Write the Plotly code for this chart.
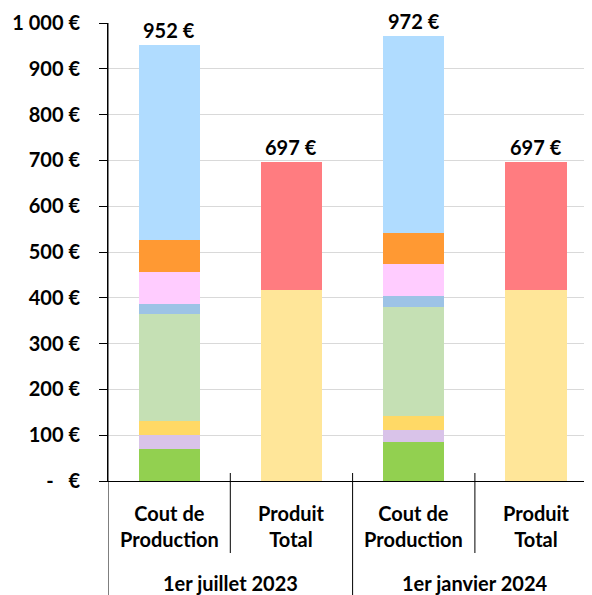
import plotly.graph_objects as go

periods = ["1er juillet 2023", "1er janvier 2024"]
bar_labels = ["Cout de<br>Production", "Produit<br>Total", "Cout de<br>Production", "Produit<br>Total"]
y_tickvals = [0, 100, 200, 300, 400, 500, 600, 700, 800, 900, 1000]
y_ticktext = ["-   €", "100 €", "200 €", "300 €", "400 €", "500 €", "600 €", "700 €", "800 €", "900 €", "1 000 €"]

# cost components (bottom to top) for the two "Cout de Production" bars
cost_names = ["Poste 1", "Poste 2", "Poste 3", "Poste 4", "Poste 5", "Poste 6", "Poste 7", "Poste 8"]
cost_2023 = [70, 30, 31, 234, 21, 71, 69, 426]
cost_2024 = [86, 25, 32, 238, 22, 71, 68, 430]
cost_colors = ["#92D050", "#D9C3E9", "#FFD966", "#C5E0B4", "#9DC3E6", "#FFCCFF", "#FF9933", "#B0DCFF"]

# product components for the two "Produit Total" bars
prod_names = ["Produit 1", "Produit 2"]
prod_2023 = [417, 280]
prod_2024 = [417, 280]
prod_colors = ["#FFE699", "#FF7C80"]

totals = [952, 697, 972, 697]
total_labels = ["952 €", "697 €", "972 €", "697 €"]

FONT = "Lato"
FS = 20
fig = go.Figure()
for name, a, b, c in zip(cost_names, cost_2023, cost_2024, cost_colors):
    fig.add_trace(go.Bar(x=[0, 2], y=[a, b], name=name, marker_color=c,
                         marker_line_width=0, width=0.5, showlegend=False))
for name, a, b, c in zip(prod_names, prod_2023, prod_2024, prod_colors):
    fig.add_trace(go.Bar(x=[1, 3], y=[a, b], name=name, marker_color=c,
                         marker_line_width=0, width=0.5, showlegend=False))

# page has an 8px body margin; compensate
W, H = 584, 587
ml, mr, mt, mb = 100, 0, 15, 114
plot_h = H - mt - mb
cat_px = 122.3
xr = [-0.5, -0.5 + (W - ml - mr) / cat_px]

def py(px_below):  # pixels below axis -> paper y
    return -px_below / plot_h

bold = dict(family=FONT, size=FS, color="black", weight="bold")
annotations = []
for i, (t, lab) in enumerate(zip(totals, total_labels)):
    annotations.append(dict(x=i, y=t, xref="x", yref="y", text=lab, showarrow=False,
                            yanchor="bottom", yshift=1, font=bold))
for i, lab in enumerate(bar_labels):
    annotations.append(dict(x=i, y=py(45), xref="x", yref="paper", text=lab, showarrow=False,
                            yanchor="middle", font=bold))
for i, lab in enumerate(periods):
    annotations.append(dict(x=0.5 + 2 * i, y=py(102), xref="x", yref="paper", text=lab, showarrow=False,
                            yanchor="middle", font=bold))

shapes = []
shapes.append(dict(type="line", xref="x", yref="paper", x0=-0.5, x1=-0.5, y0=1, y1=py(mb),
                   line=dict(color="black", width=1)))
for xv in [0.5, 2.5]:
    shapes.append(dict(type="line", xref="x", yref="paper", x0=xv, x1=xv, y0=8 / plot_h, y1=py(72),
                       line=dict(color="black", width=1)))
shapes.append(dict(type="line", xref="x", yref="paper", x0=1.5, x1=1.5, y0=8 / plot_h, y1=py(mb),
                   line=dict(color="black", width=1)))

fig.update_layout(
    width=W, height=H, barmode="stack",
    margin=dict(l=ml, r=mr, t=mt, b=mb),
    plot_bgcolor="white", paper_bgcolor="white",
    font=dict(family=FONT, size=FS, color="black"),
    annotations=annotations, shapes=shapes,
    xaxis=dict(range=xr, showticklabels=False, showline=True, linecolor="black", linewidth=1,
               showgrid=False, zeroline=False, ticks=""),
    yaxis=dict(range=[0, 1000], tickvals=y_tickvals, ticktext=y_ticktext,
               showline=True, linecolor="black", linewidth=1,
               showgrid=True, gridcolor="#D9D9D9", gridwidth=1, zeroline=False,
               ticks="outside", ticklen=8, tickcolor="black",
               ticklabelstandoff=15, tickfont=bold),
)
fig.write_html("out.html")
